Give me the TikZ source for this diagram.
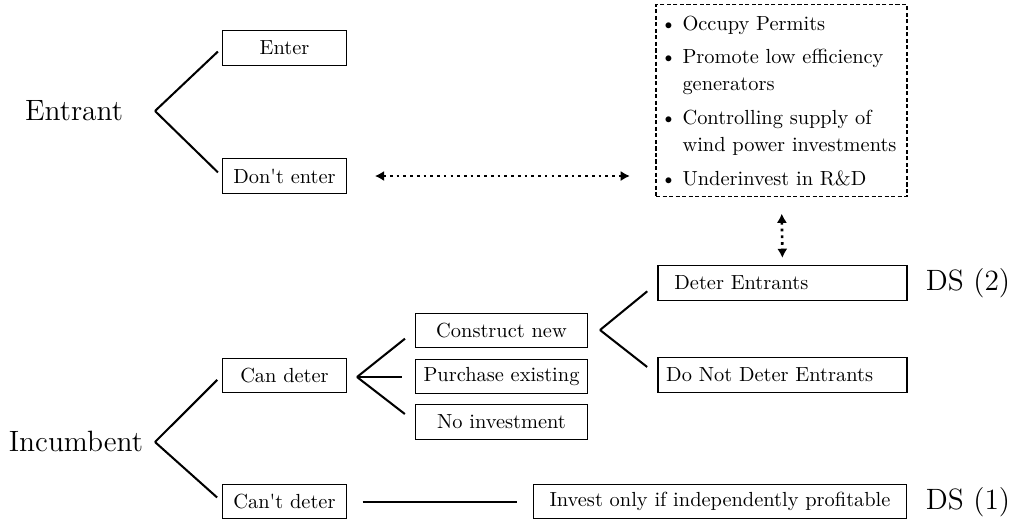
\documentclass[tikz,border=0pt]{standalone}
\usepackage{amsmath}
\usepackage{enumitem}
\usetikzlibrary{arrows.meta}
\tikzset{
	choice box/.style={draw, line width=0.6pt, minimum height=17pt, inner sep=2pt},
	small box/.style={choice box, minimum width=61pt},
	mid box/.style={choice box, minimum width=84pt},
	wide box/.style={choice box, text width=114pt, inner xsep=4pt, align=left},
	player/.style={font=\Large},
	branch/.style={line width=1pt, shorten >=2.5pt},
	twig/.style={line width=1pt, shorten >=6.4pt},
	dot arrow/.style={dotted, line width=1.3pt, {Latex[length=4.5pt,width=5pt]}-{Latex[length=4.5pt,width=5pt]}},
}

\begin{document}
\begin{tikzpicture}[x=0.49pt, y=-0.49pt]
\useasboundingbox (0,0) rectangle (1017,523);

              % entrant
              \node[player] (entrant) at (74,111) {Entrant};
              \coordinate (fentrant) at (155,111);
              \node[small box] (enter) at (284.5,48) {Enter};
              \node[small box] (dontenter) at (284.5,176) {Don\textquotesingle t enter};
              \draw[branch] (fentrant) -- (enter.west);
              \draw[branch] (fentrant) -- (dontenter.west);

              % strategies box
              \node[draw, dash pattern=on 2pt off 1.2pt, line width=0.6pt, text width=115pt, inner xsep=4pt, inner ysep=5.5pt,
                    font={\fontsize{10}{13.5}\selectfont}, align=left, anchor=north] (strategies) at (781.5,4) {%
                \vspace*{-6.5pt}
                \begin{itemize}[leftmargin=9pt, labelsep=3pt, itemsep=2.8pt, parsep=0pt, topsep=0pt, partopsep=0pt]
                  \item Occupy Permits
                  \item Promote low efficiency generators
                  \item Controlling supply of wind power investments
                  \item Underinvest in R\&D
                \end{itemize}};

              % incumbent
              \node[player] (incumbent) at (76,441) {Incumbent};
              \coordinate (fincumbent) at (155,442);
              \node[small box] (candeter) at (284.5,375.5) {Can deter};
              \node[small box] (cantdeter) at (284.5,501.5) {Can\textquotesingle t deter};
              \draw[branch, shorten >=3pt] (fincumbent) -- (candeter.west);
              \draw[branch, shorten >=3pt] (fincumbent) -- (cantdeter.west);

              \coordinate (fcandeter) at (357,377);
              \node[mid box] (construct) at (501.5,330.5) {Construct new};
              \node[mid box] (purchase) at (501.5,376.5) {Purchase existing};
              \node[mid box] (noinvest) at (501.5,422) {No investment};
              \draw[twig] (fcandeter) -- (construct.west);
              \draw[twig] (fcandeter) -- (fcandeter -| purchase.west);
              \draw[twig] (fcandeter) -- (noinvest.west);

              \coordinate (fconstruct) at (600,330);
              \node[wide box] (deter) at (782.5,283) {\hspace*{4pt}Deter Entrants};
              \node[wide box] (nodeter) at (782.5,375) {Do Not Deter Entrants};
              \draw[twig] (fconstruct) -- (deter.west);
              \draw[twig] (fconstruct) -- (nodeter.west);

              \node[choice box, minimum width=183pt] (invest) at (720,501.5) {Invest only if independently profitable};
              \draw[line width=1pt, shorten <=7.5pt, shorten >=7.8pt] (cantdeter.east) -- (invest.west);

              \node[player] (ds2) at (968,283) {DS (2)};
              \node[player] (ds1) at (968,502) {DS (1)};

              % dotted links
              \draw[dot arrow, shorten <=13.5pt, shorten >=12.5pt] (dontenter.east) -- (dontenter.east -| strategies.west);
              \draw[dot arrow, shorten <=8pt, shorten >=3.5pt] (strategies.south) -- (deter.north);

\end{tikzpicture}
\end{document}
